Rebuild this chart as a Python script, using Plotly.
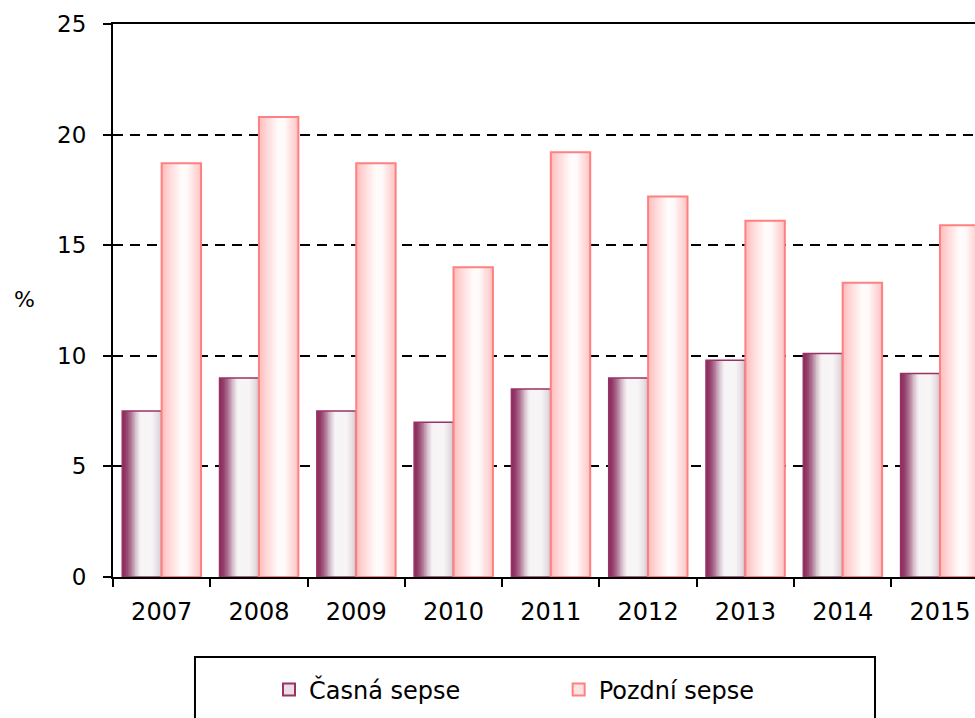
import plotly.graph_objects as go

# ---- data ----
years = ["2007", "2008", "2009", "2010", "2011", "2012", "2013", "2014", "2015"]
early_sepsis = [7.5, 9.0, 7.5, 7.0, 8.5, 9.0, 9.8, 10.1, 9.2]
late_sepsis = [18.7, 20.8, 18.7, 14.0, 19.2, 17.2, 16.1, 13.3, 15.9]
series_names = ["Časná sepse", "Pozdní sepse"]
y_ticks = [0, 5, 10, 15, 20, 25]

# ---- style ----
FONT = "DejaVu Sans"
W = 0.405        # bar width in category units
N = 28           # gradient strips per bar

dark_stops = [(0.0, (138, 40, 92)), (0.1, (148, 62, 106)), (0.22, (176, 118, 150)),
              (0.34, (214, 192, 204)), (0.46, (247, 244, 246)), (0.75, (247, 245, 246)),
              (0.9, (230, 222, 227)), (1.0, (210, 198, 205))]
pink_stops = [(0.0, (255, 188, 188)), (0.25, (255, 222, 222)), (0.5, (255, 252, 252)),
              (0.65, (255, 250, 250)), (0.85, (255, 218, 218)), (1.0, (255, 195, 195))]


def interp(stops, t):
    for (t0, c0), (t1, c1) in zip(stops, stops[1:]):
        if t0 <= t <= t1:
            f = (t - t0) / (t1 - t0) if t1 > t0 else 0
            c = [round(a + (b - a) * f) for a, b in zip(c0, c1)]
            return "rgb(%d,%d,%d)" % tuple(c)
    return "rgb(%d,%d,%d)" % stops[-1][1]


fig = go.Figure()


def add_series(values, base_offset, stops, edge, lw, name, legend, legend_fill):
    for k in range(N):
        t = k / N
        fig.add_trace(go.Bar(
            x=years, y=values, width=W * (1 - t), offset=base_offset + W * t,
            marker=dict(color=interp(stops, (k + 0.5) / N), line=dict(width=0)),
            showlegend=False, hoverinfo="skip"))
    fig.add_trace(go.Bar(
        x=years, y=values, width=W, offset=base_offset,
        marker=dict(color="rgba(0,0,0,0)", line=dict(color=edge, width=lw)),
        showlegend=False, name=name))
    fig.add_trace(go.Bar(
        x=years, y=[None] * len(years), name=name, legend=legend,
        marker=dict(color=legend_fill, line=dict(color=edge, width=2)),
        showlegend=True))


add_series(early_sepsis, -W, dark_stops, "#993366", 1.5, series_names[0], "legend", "#eadde3")
add_series(late_sepsis, 0.0, pink_stops, "#ff8080", 2, series_names[1], "legend2", "#ffe2e2")

fig.update_layout(
    width=975, height=718,
    margin=dict(l=113, r=0, t=24, b=141, autoexpand=False),
    paper_bgcolor="white", plot_bgcolor="white",
    barmode="overlay",
    font=dict(family=FONT, size=22, color="black"),
    xaxis=dict(
        type="category", range=[-0.5, 8.36], automargin=False,
        showline=True, linecolor="black", linewidth=2, mirror=True,
        ticks="outside", ticklen=8, tickwidth=2, tickcolor="black",
        tickson="boundaries", showgrid=False,
        tickfont=dict(family=FONT, size=24, color="black"),
        ticklabelstandoff=12,
    ),
    yaxis=dict(
        range=[0, 25], tickvals=y_ticks, ticktext=[str(v) for v in y_ticks],
        automargin=False,
        showline=True, linecolor="black", linewidth=2,
        ticks="outside", ticklen=8, tickwidth=2, tickcolor="black",
        showgrid=True, gridcolor="black", gridwidth=2, griddash="10px,7px",
        zeroline=False,
        tickfont=dict(family=FONT, size=23, color="black"),
        ticklabelstandoff=12,
    ),
    legend=dict(orientation="h", x=0.181, y=-0.204, xanchor="left", yanchor="middle",
                bgcolor="rgba(0,0,0,0)", borderwidth=0,
                font=dict(family=FONT, size=24, color="black"), itemwidth=30),
    legend2=dict(orientation="h", x=0.517, y=-0.204, xanchor="left", yanchor="middle",
                 bgcolor="rgba(0,0,0,0)", borderwidth=0,
                 font=dict(family=FONT, size=24, color="black"), itemwidth=30),
    shapes=[dict(type="rect", xref="paper", yref="paper",
                 x0=0.0951, x1=0.884, y0=-0.30, y1=-0.1447,
                 line=dict(color="black", width=2), fillcolor="rgba(0,0,0,0)", layer="below")],
    annotations=[dict(text="%", xref="paper", yref="paper", x=-0.103, y=0.501,
                      xanchor="center", yanchor="middle", showarrow=False,
                      font=dict(family=FONT, size=22, color="black"))],
)

fig.write_html("out.html", config={"displayModeBar": False},
               post_script="document.body.style.margin='0';")
